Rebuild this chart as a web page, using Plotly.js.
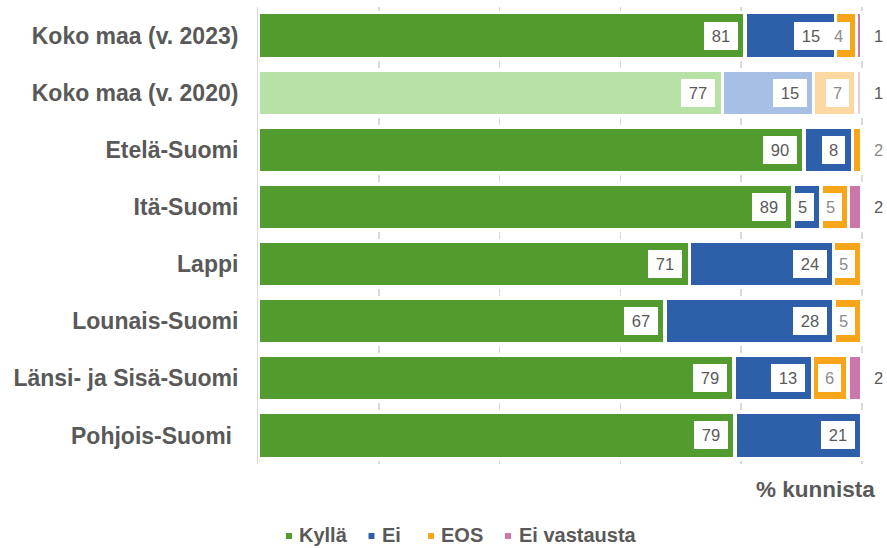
<!DOCTYPE html>
<html><head><meta charset="utf-8">
<script src="https://cdn.plot.ly/plotly-3.0.1.min.js"></script>
<style>html,body{margin:0;padding:0;background:#fff}#chart{width:887px;height:548px}</style>
</head><body><div id="chart"></div>
<script>
// ---- data ----
const categories = ['Koko maa (v. 2023)', 'Koko maa (v. 2020)', 'Etelä-Suomi', 'Itä-Suomi', 'Lappi', 'Lounais-Suomi', 'Länsi- ja Sisä-Suomi', 'Pohjois-Suomi\u00a0'];
const seriesNames = ['Kyllä', 'Ei', 'EOS', 'Ei vastausta'];
const kylla       = [80.6, 76.9, 90.4, 88.6, 71.4, 67.4, 78.8, 79.0];
const ei          = [15.0, 15.1,  8.0,  4.6, 23.9, 28.0, 13.0, 21.0];
const eos         = [ 3.5,  7.0,  1.6,  4.6,  4.7,  4.6,  5.9,  0];
const eiVastausta = [ 0.9,  1.0,  0,    2.2,  0,    0,    2.3,  0];
const axisTitle = '% kunnista';
const xTicks = [0, 20, 40, 60, 80, 100];

// ---- styling ----
const series = [kylla, ei, eos, eiVastausta];
const fullColors  = ['#529B2E', '#2E5FAA', '#F9A51A', '#CC77AC'];
const lightColors = ['#B7E1A5', '#A7BFE5', '#FDD9A1', '#F0C9DF'];
const lightRow = 1; // the 2020 comparison row is drawn in lighter tones
const labelColors = ['#595959', '#595959', '#8C8C8C', '#595959'];
const FONT = 'Liberation Sans, Arial, Helvetica, sans-serif';
const GRAY = '#595959';

const M = {l: 258, r: 0, t: 7, b: 84};
const W = 887, H = 548;
const PW = W - M.l - M.r, PH = H - M.t - M.b;
const pxX = px => (px - M.l) / PW;
const pxY = py => (H - M.b - py) / PH;
const xMax = PW / 6.04;
const pitch = PH / categories.length;

const traces = series.map((vals, s) => ({
  type: 'bar', orientation: 'h', name: seriesNames[s],
  y: categories, x: vals.map(v => v > 0 ? v : null),
  marker: {
    color: categories.map((c, i) => i === lightRow ? lightColors[s] : fullColors[s]),
    line: {color: '#ffffff', width: 3.5}
  },
  hoverinfo: 'skip'
}));

const annotations = [];
categories.forEach((cat, i) => {
  let cum = 0;
  series.forEach((vals, s) => {
    const v = vals[i];
    cum += v;
    if (!(v > 0)) return;
    const label = String(Math.round(v));
    if (v >= 3) {
      annotations.push({
        xref: 'x', yref: 'y', x: cum, y: cat, xanchor: 'right', yanchor: 'middle', xshift: -7,
        text: label, showarrow: false, bgcolor: '#ffffff', borderpad: 0, borderwidth: 0,
        width: label.length > 1 ? 34 : 23, height: 28,
        font: {family: FONT, size: 16.5, color: labelColors[s]}
      });
    } else {
      annotations.push({
        xref: 'x', yref: 'y', x: cum, y: cat, xanchor: 'left', yanchor: 'middle', xshift: 12,
        text: label, showarrow: false, borderpad: 0, borderwidth: 0,
        font: {family: FONT, size: 16.5, color: labelColors[s]}
      });
    }
  });
});

// axis title
annotations.push({
  xref: 'paper', yref: 'paper', x: pxX(875), y: pxY(489), xanchor: 'right', yanchor: 'middle',
  text: axisTitle, showarrow: false, borderpad: 0, borderwidth: 0,
  font: {family: FONT, size: 22.5, color: GRAY, weight: 'bold'}
});

// legend
const legendTextX = [299, 381.5, 441, 518.5];
const legendSqX = [286, 368.5, 428, 505];
const legendY = 535;
const shapes = [];
seriesNames.forEach((n, s) => {
  annotations.push({
    xref: 'paper', yref: 'paper', x: pxX(legendTextX[s]), y: pxY(legendY), xanchor: 'left', yanchor: 'middle',
    text: n, showarrow: false, borderpad: 0, borderwidth: 0,
    font: {family: FONT, size: 20, color: GRAY, weight: 'bold'}
  });
  shapes.push({
    type: 'rect', xref: 'paper', yref: 'paper',
    x0: pxX(legendSqX[s]), x1: pxX(legendSqX[s] + 6), y0: pxY(legendY + 4), y1: pxY(legendY - 2),
    fillcolor: fullColors[s], line: {width: 0}
  });
});

const half = 3.5;
const layout = {
  width: W, height: H, margin: M, paper_bgcolor: '#fff', plot_bgcolor: '#fff',
  barmode: 'stack', bargap: 0.2, showlegend: false,
  font: {family: FONT, color: GRAY},
  xaxis: {
    range: [0, xMax], tickvals: xTicks, showticklabels: false, zeroline: false,
    showgrid: true, gridcolor: '#D9D9D9', gridwidth: 1.5,
    griddash: half + 'px,' + (pitch - 2 * half).toFixed(3) + 'px,' + half + 'px,0px',
    fixedrange: true
  },
  yaxis: {
    type: 'category', range: [categories.length - 0.5, -0.5], showgrid: false, zeroline: false,
    showline: true, linecolor: '#D9D9D9', linewidth: 1, ticks: '',
    ticklabelstandoff: 14,
    tickfont: {family: FONT, size: 23, color: GRAY, weight: 'bold'}, fixedrange: true
  },
  annotations: annotations, shapes: shapes
};

Plotly.newPlot('chart', traces, layout, {displayModeBar: false, staticPlot: true});
</script>
</body></html>
